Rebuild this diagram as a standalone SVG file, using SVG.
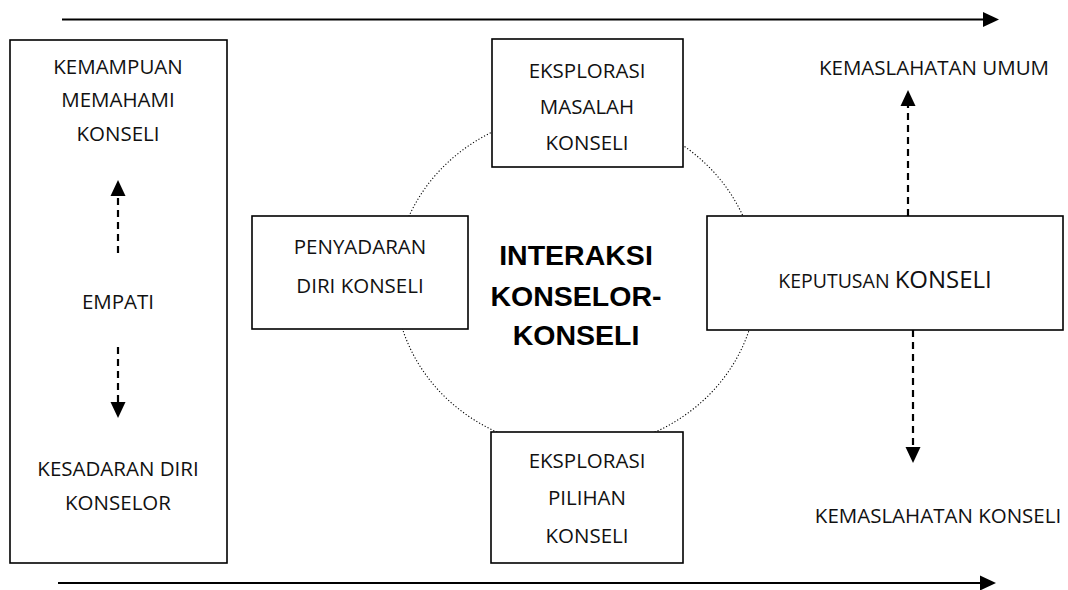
<svg xmlns="http://www.w3.org/2000/svg" width="1068" height="590" viewBox="0 0 1068 590">
<style>
.box{fill:#fff;stroke:#000;stroke-width:1.6}
.t{font-family:"Open Sans","Liberation Sans",sans-serif;font-size:20.5px;fill:#111;text-anchor:middle}
.b{font-family:"Liberation Sans",Arial,sans-serif;font-size:28.5px;font-weight:bold;fill:#000;text-anchor:middle}
.solid{stroke:#000;stroke-width:2.2;fill:none}
.dash{stroke:#000;stroke-width:2.2;fill:none;stroke-dasharray:7,5}
.ring{fill:none;stroke:#000;stroke-width:1.1;stroke-dasharray:1.2,2}
</style>
<defs>
<marker id="ah" markerUnits="userSpaceOnUse" markerWidth="16" markerHeight="15" refX="0" refY="7.5" orient="auto" overflow="visible">
<path d="M0,0 L16,7.5 L0,15 z" fill="#000"/>
</marker>
</defs>
<ellipse class="ring" cx="576" cy="281" rx="181" ry="168"/>
<g id="left-panel">
<rect class="box" x="10" y="40" width="217" height="523"/>
<text class="t" x="118" y="74">KEMAMPUAN</text>
<text class="t" x="118" y="107">MEMAHAMI</text>
<text class="t" x="118" y="141">KONSELI</text>
<text class="t" x="118" y="309">EMPATI</text>
<text class="t" x="118" y="476">KESADARAN DIRI</text>
<text class="t" x="118" y="510">KONSELOR</text>
</g>
<g id="eksplorasi-masalah">
<rect class="box" x="492" y="39" width="191" height="128"/>
<text class="t" x="587" y="78">EKSPLORASI</text>
<text class="t" x="587" y="114">MASALAH</text>
<text class="t" x="587" y="150">KONSELI</text>
</g>
<g id="penyadaran">
<rect class="box" x="252" y="216" width="216" height="113"/>
<text class="t" x="360" y="254">PENYADARAN</text>
<text class="t" x="360" y="293">DIRI KONSELI</text>
</g>
<g id="interaksi">
<text class="b" x="576" y="265">INTERAKSI</text>
<text class="b" x="576" y="306">KONSELOR-</text>
<text class="b" x="576" y="345">KONSELI</text>
</g>
<g id="eksplorasi-pilihan">
<rect class="box" x="491" y="432" width="192" height="131"/>
<text class="t" x="587" y="468">EKSPLORASI</text>
<text class="t" x="587" y="505">PILIHAN</text>
<text class="t" x="587" y="543">KONSELI</text>
</g>
<g id="keputusan">
<rect class="box" x="707" y="216" width="356" height="114"/>
<text class="t" x="885" y="288"><tspan font-size="19.5px">KEPUTUSAN </tspan><tspan font-size="24px">KONSELI</tspan></text>
</g>
<g id="kemaslahatan-umum">
<text class="t" x="934" y="75" font-size="21px">KEMASLAHATAN UMUM</text>
</g>
<g id="kemaslahatan-konseli">
<text class="t" x="938" y="523">KEMASLAHATAN KONSELI</text>
</g>
<g id="connectors">
<line class="solid" x1="62" y1="19.5" x2="983" y2="19.5" marker-end="url(#ah)"/>
<line class="solid" x1="58" y1="583" x2="980" y2="583" marker-end="url(#ah)"/>
<line class="dash" x1="118" y1="253" x2="118" y2="196" marker-end="url(#ah)"/>
<line class="dash" x1="118" y1="347" x2="118" y2="402" marker-end="url(#ah)"/>
<line class="dash" x1="908" y1="216" x2="908" y2="106" marker-end="url(#ah)"/>
<line class="dash" x1="913" y1="330" x2="913" y2="447" marker-end="url(#ah)"/>
</g>
</svg>
